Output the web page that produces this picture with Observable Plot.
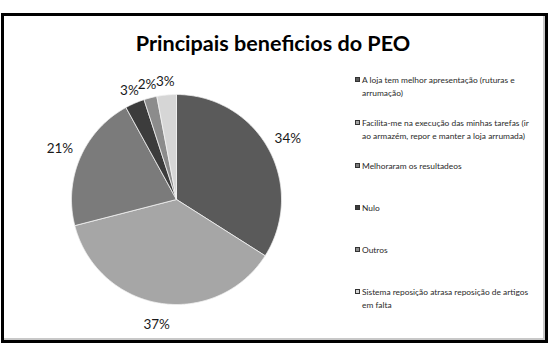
<!DOCTYPE html>
<html>
<head>
<meta charset="utf-8">
<script src="https://cdn.jsdelivr.net/npm/d3@7"></script>
<script src="https://cdn.jsdelivr.net/npm/@observablehq/plot@0.6"></script>
<style>
  html, body { margin: 0; padding: 0; background: #fff; }
  #wrap { position: relative; width: 555px; height: 345px; overflow: hidden; font-family: Lato, "Open Sans", sans-serif; }
  #frame { position: absolute; left: 1px; top: 13px; width: 541px; height: 324px; border: 3px solid #000; box-shadow: inset -2px -2px 0 #c8c8c8; }
  #chart { position: absolute; left: 0; top: 0; }
  #title { position: absolute; left: 0; width: 546px; top: 30px; text-align: center; font-weight: bold; font-size: 21.6px; color: #000; line-height: 26px; }
  #legend { position: absolute; left: 355px; top: 0; font-size: 8.4px; color: #2a2a2a; }
  .item { position: absolute; left: 0; white-space: nowrap; line-height: 12.5px; }
  .sw { position: absolute; left: 0; top: 3px; width: 5px; height: 5px; border: 0.5px solid #333; box-sizing: border-box; }
  .txt { position: absolute; left: 7px; top: 0; }
</style>
</head>
<body>
<div id="wrap">
  <div id="frame"></div>
  <div id="chart"></div>
  <div id="title"></div>
  <div id="legend"></div>
</div>
<script>
const title = "Principais beneficios do PEO";
const categories = [
  "A loja tem melhor apresentação (ruturas e\narrumação)",
  "Facilita-me na execução das minhas tarefas (ir\nao armazém, repor e manter a loja arrumada)",
  "Melhoraram os resultadeos",
  "Nulo",
  "Outros",
  "Sistema reposição atrasa reposição de artigos\nem falta"
];
const values = [34, 37, 21, 3, 2, 3];
const labels = ["34%", "37%", "21%", "3%", "2%", "3%"];
const colors = ["#5a5a5a", "#a6a6a6", "#7b7b7b", "#3c3c3c", "#8c8c8c", "#d6d6d6"];

const data = categories.map((c, i) => ({category: c, value: values[i], label: labels[i], color: colors[i]}));
const arcs = d3.pie().sort(null).value(d => d.value)(data);

// Polygon points for each slice (angle measured clockwise from 12 o'clock)
const pts = [];
arcs.forEach((a, i) => {
  pts.push({slice: i, x: 0, y: 0, color: a.data.color});
  const n = Math.max(4, Math.ceil((a.endAngle - a.startAngle) / 0.01));
  for (let k = 0; k <= n; k++) {
    const t = a.startAngle + (a.endAngle - a.startAngle) * k / n;
    pts.push({slice: i, x: Math.sin(t), y: Math.cos(t), color: a.data.color});
  }
  pts.push({slice: i, x: 0, y: 0, color: a.data.color});
});

const labelPts = arcs.map(a => {
  const m = (a.startAngle + a.endAngle) / 2;
  const f = a.data.value < 5 ? 1.13 : 1.21;
  return {x: f * Math.sin(m), y: f * Math.cos(m), label: a.data.label};
});

const cx = 176, cy = 199, r = 105;
const chart = Plot.plot({
  width: 555,
  height: 345,
  marginLeft: cx - r,
  marginRight: 555 - (cx + r),
  marginTop: cy - r,
  marginBottom: 345 - (cy + r),
  x: {domain: [-1, 1], axis: null},
  y: {domain: [-1, 1], axis: null},
  color: {type: "identity"},
  style: {background: "transparent", overflow: "visible"},
  marks: [
    Plot.line(pts, {x: "x", y: "y", z: "slice", fill: "color", stroke: "#f2f2f2", strokeWidth: 0.8, curve: "linear-closed"}),
    Plot.text(labelPts, {x: "x", y: "y", text: "label", fontSize: 13.5, fill: "#1a1a1a", fontFamily: "Lato, 'Open Sans', sans-serif", textAnchor: "middle"})
  ]
});
document.getElementById("chart").appendChild(chart);
document.getElementById("title").textContent = title;

const legend = document.getElementById("legend");
const legendTops = [74, 117, 160, 202, 244, 286];
categories.forEach((c, i) => {
  const item = document.createElement("div");
  item.className = "item";
  item.style.top = legendTops[i] + "px";
  const sw = document.createElement("div");
  sw.className = "sw";
  sw.style.background = colors[i];
  const txt = document.createElement("div");
  txt.className = "txt";
  txt.innerHTML = c.split("\n").map(s => s.replace(/&/g, "&amp;").replace(/</g, "&lt;")).join("<br>");
  item.appendChild(sw);
  item.appendChild(txt);
  legend.appendChild(item);
});
</script>
</body>
</html>
